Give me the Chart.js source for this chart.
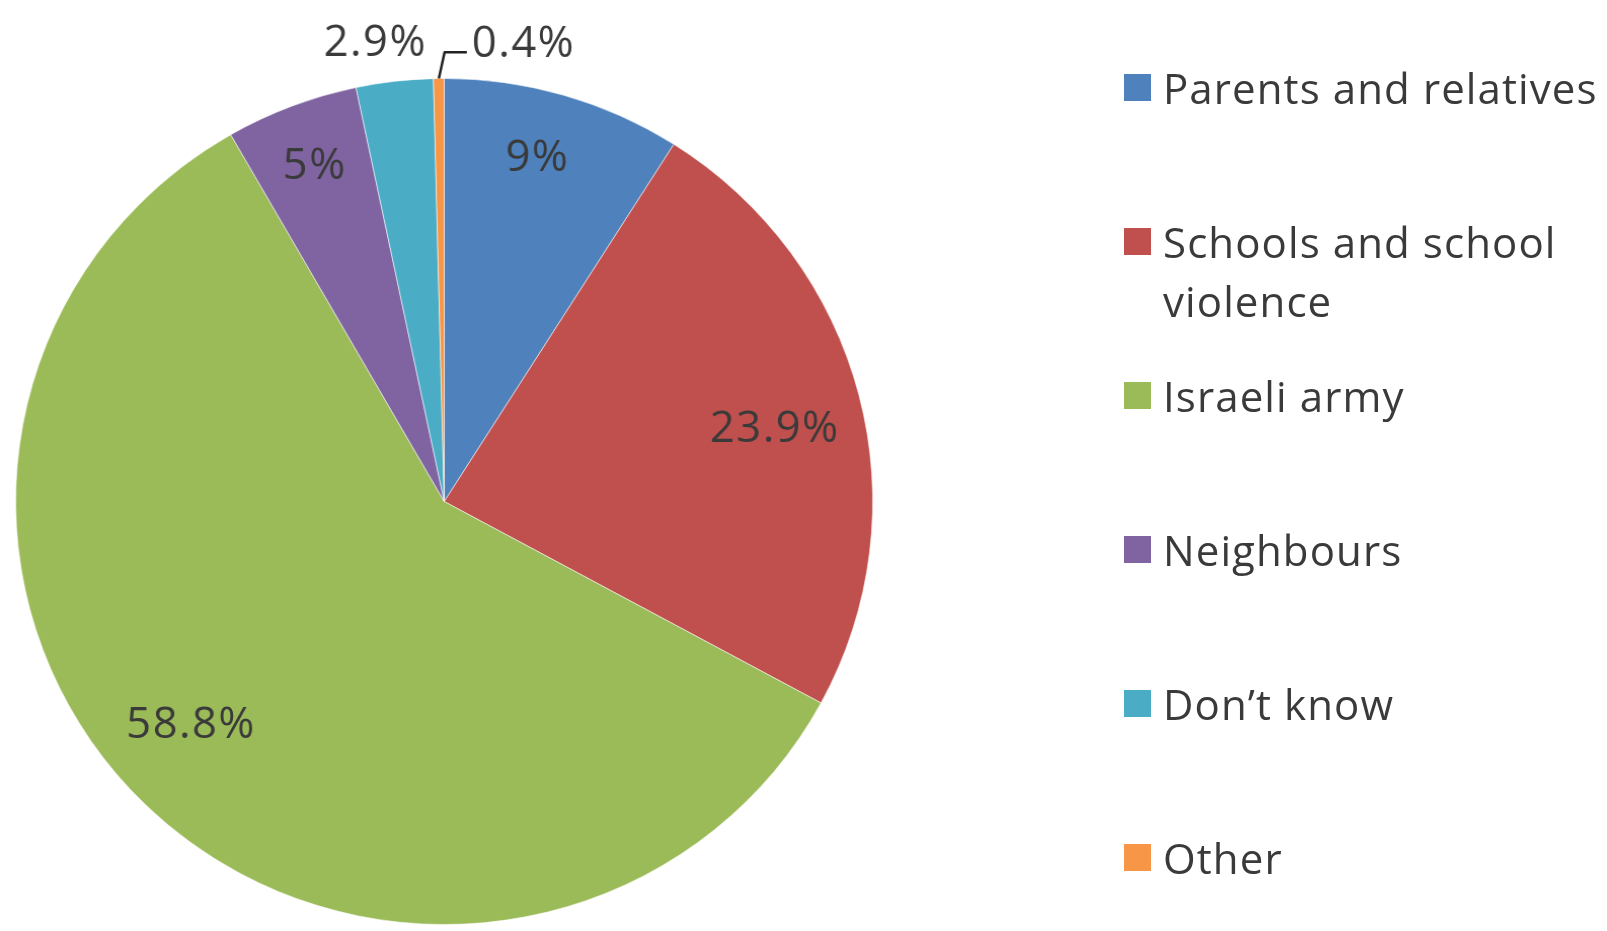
<!DOCTYPE html>
<html>
<head>
<meta charset="utf-8">
<title>Sources of violence</title>
<script src="https://cdn.jsdelivr.net/npm/chart.js@4.4.1/dist/chart.umd.min.js"></script>
<style>
  html, body { margin: 0; padding: 0; background: #ffffff; }
  #wrap { position: relative; width: 1607px; height: 931px; overflow: hidden; }
  #pie { position: absolute; left: 0; top: 0; transform-origin: 0 0; transform: scaleX(1.013); }
  #legend {
    position: absolute; left: 1124px; top: 58px; margin: 0; padding: 0;
    list-style: none; font-family: "Open Sans", Lato, sans-serif; font-size: 42px;
    letter-spacing: 1.1px; color: #3a3a3a;
  }
  #legend li { position: relative; height: 154px; }
  #legend .box { position: absolute; left: 0; top: 16px; width: 27px; height: 27px; }
  #legend .txt { position: absolute; left: 39px; top: 0; width: 460px; line-height: 59px; }
</style>
</head>
<body>
<div id="wrap">
  <canvas id="pie" width="1607" height="931"></canvas>
  <ul id="legend"></ul>
</div>
<script>
// Who the violence comes from, share of responses in percent
const categories = ['Parents and relatives', 'Schools and school violence', 'Israeli army', 'Neighbours', 'Don\u2019t know', 'Other'];
const shares = [9, 23.9, 58.8, 5, 2.9, 0.4];
const shareLabels = ['9%', '23.9%', '58.8%', '5%', '2.9%', '0.4%'];
const sliceColors = ['#4F81BD', '#C0504D', '#9BBB59', '#8064A2', '#4BACC6', '#F79646'];

const labelFont = '43px "Open Sans", Lato, sans-serif';
const textColor = '#3a3a3a';

// Label placement for each slice: radius factor and small angle nudge (degrees);
// a slice with leader:true gets an elbow line and its label to the right.
const labelPlacement = [
  { r: 0.84, da: -1.2 },
  { r: 0.79, da: 2.1 },
  { r: 0.794, da: 3.8 },
  { r: 0.848, da: 0 },
  { r: 1.094, da: -1.8 },
  { leader: true }
];

const sliceLabels = {
  id: 'sliceLabels',
  afterDatasetsDraw(chart) {
    const ctx = chart.ctx;
    const meta = chart.getDatasetMeta(0);
    ctx.save();
    ctx.font = labelFont;
    if ('letterSpacing' in ctx) ctx.letterSpacing = '1.5px';
    ctx.fillStyle = textColor;
    meta.data.forEach((arc, i) => {
      const p = arc.getProps(['x', 'y', 'startAngle', 'endAngle', 'outerRadius'], true);
      const mid = (p.startAngle + p.endAngle) / 2;
      const place = labelPlacement[i];
      const text = shareLabels[i];
      if (place.leader) {
        const sx = p.x + Math.cos(mid) * p.outerRadius;
        const sy = p.y + Math.sin(mid) * p.outerRadius;
        const ex = p.x + Math.cos(mid) * p.outerRadius * 1.062 + 6;
        const ey = p.y + Math.sin(mid) * p.outerRadius * 1.062;
        ctx.strokeStyle = '#222222';
        ctx.lineWidth = 2.5;
        ctx.lineJoin = 'round';
        ctx.beginPath();
        ctx.moveTo(sx, sy);
        ctx.lineTo(ex, ey);
        ctx.lineTo(ex + 22, ey);
        ctx.stroke();
        ctx.textAlign = 'left';
        ctx.textBaseline = 'middle';
        ctx.fillText(text, ex + 27, ey - 8);
      } else {
        const a = mid + place.da * Math.PI / 180;
        const lx = p.x + Math.cos(a) * p.outerRadius * place.r;
        const ly = p.y + Math.sin(a) * p.outerRadius * place.r;
        ctx.textAlign = 'center';
        ctx.textBaseline = 'middle';
        ctx.fillText(text, lx, ly);
      }
    });
    ctx.restore();
  }
};

// Legend built as HTML from the chart's own legend items so the long label can wrap
const htmlLegend = {
  id: 'htmlLegend',
  afterUpdate(chart) {
    const ul = document.getElementById('legend');
    ul.innerHTML = '';
    const items = chart.options.plugins.legend.labels.generateLabels(chart);
    items.forEach(item => {
      const li = document.createElement('li');
      const box = document.createElement('span');
      box.className = 'box';
      box.style.background = item.fillStyle;
      const txt = document.createElement('span');
      txt.className = 'txt';
      txt.textContent = item.text;
      li.appendChild(box);
      li.appendChild(txt);
      ul.appendChild(li);
    });
  }
};

new Chart(document.getElementById('pie'), {
  type: 'pie',
  data: {
    labels: categories,
    datasets: [{
      data: shares,
      backgroundColor: sliceColors,
      borderColor: 'rgba(255,255,255,0.55)',
      borderWidth: 1
    }]
  },
  options: {
    responsive: false,
    animation: false,
    layout: { padding: { left: 15, right: 745, top: 78, bottom: 6 } },
    plugins: {
      legend: { display: false },
      tooltip: { enabled: false }
    }
  },
  plugins: [sliceLabels, htmlLegend]
});
</script>
</body>
</html>
